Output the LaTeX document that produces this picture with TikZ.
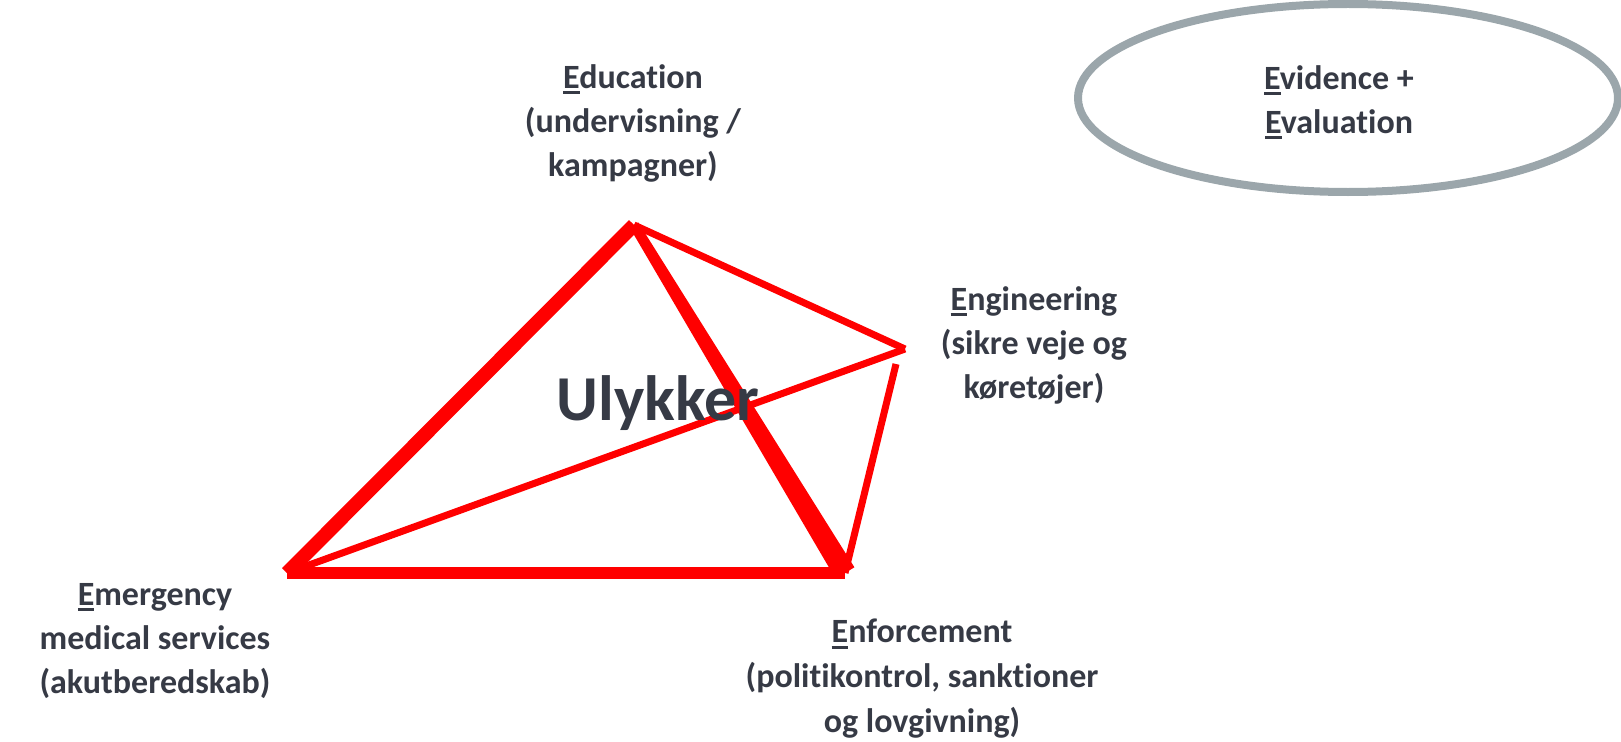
\documentclass[tikz,border=0pt]{standalone}
\usepackage{fontspec}
\setmainfont{Carlito}[Ligatures=NoCommon]
\usetikzlibrary{calc,shapes.geometric}
\definecolor{txt}{RGB}{54,58,69}
\definecolor{ring}{RGB}{155,166,171}
\definecolor{lred}{RGB}{255,0,0}
\newcommand\uE{\setbox0\hbox{E}\rlap{\rule[-0.17em]{\wd0}{0.085em}}E}
\tikzset{
  lbl/.style={text=txt, font=\bfseries\fontsize{34}{44}\selectfont, align=center, inner sep=0pt},
  big/.style={text=txt, font=\bfseries\fontsize{64}{70}\selectfont, inner sep=0pt},
  thick edge/.style={draw=lred, line width=14pt},
  thin edge/.style={draw=lred, line width=7pt},
}
\begin{document}
\begin{tikzpicture}[x=1pt,y=-1pt]
\useasboundingbox (0,0) rectangle (1621,741);
% vertices
\coordinate (edu) at (634,225);
\coordinate (eng) at (905,349);
\coordinate (emer) at (287,573);
\coordinate (enf) at (845,573);
\coordinate (engb) at (896,364);
% edges
\draw[thin edge] (edu) -- (eng);
\draw[thin edge] (emer) -- (eng);
\draw[thin edge] (engb) -- (enf);
\draw[draw=lred, line width=12pt] (emer) -- (enf);
\draw[thick edge] (emer) -- (edu);
\fill[lred] ($(edu)!5pt!90:(enf)$) -- ($(enf)!11pt!-90:(edu)$) -- ($(enf)!11pt!90:(edu)$) -- ($(edu)!5pt!-90:(enf)$) -- cycle;
% center label
\node[big] (uly) at (658,403) {Ulykker};
% labels
\node[lbl] (leduc) at (633,123) {\uE ducation\\(undervisning /\\kampagner)};
\node[lbl] (lengi) at (1034,345) {\uE ngineering\\(sikre veje og\\køretøjer)};
\node[lbl] (lemer) at (155,641) {\uE mergency\\medical services\\(akutberedskab)};
\node[lbl, font=\bfseries\fontsize{34}{45}\selectfont] (lenfo) at (922,679) {\uE nforcement\\(politikontrol, sanktioner\\og lovgivning)};
% evidence ellipse
\node[ellipse, draw=ring, line width=8pt, minimum width=540pt, minimum height=188pt, inner sep=0pt] (ev) at (1348,98) {};
\node[lbl] (levi) at (1339,102) {\uE vidence +\\\uE valuation};
\end{tikzpicture}
\end{document}
